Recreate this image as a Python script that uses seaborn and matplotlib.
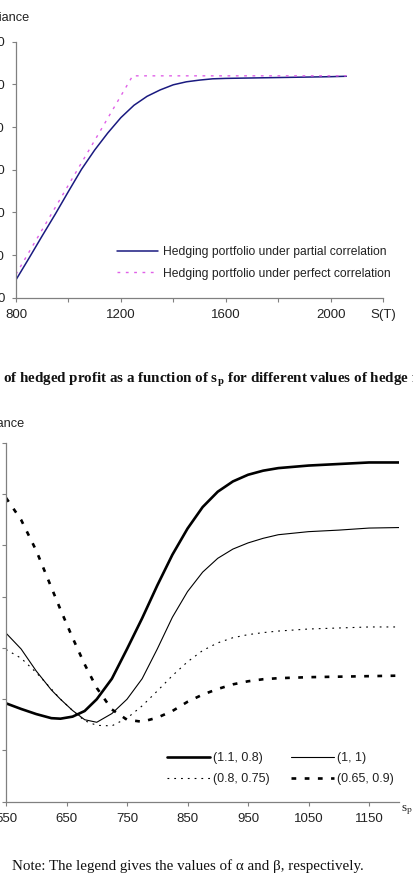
import numpy as np
import pandas as pd
import matplotlib
matplotlib.use("Agg")
import matplotlib.pyplot as plt
import seaborn as sns
from matplotlib.ticker import FixedLocator

# ---------------- data: top chart ----------------
st_partial = [800, 850, 900, 950, 1000, 1050, 1100, 1150, 1200, 1250, 1300, 1350,
              1400, 1450, 1500, 1550, 1600, 1700, 1800, 1900, 2000, 2060]
var_partial = [4.2, 9.3, 14.5, 19.6, 24.9, 30.1, 34.6, 38.6, 42.2, 45.1, 47.2, 48.7,
               49.9, 50.6, 51.0, 51.3, 51.4, 51.5, 51.6, 51.7, 51.8, 51.9]
st_perfect = [800, 1245, 2060]
var_perfect = [5.5, 52.0, 52.0]
top_yticks = [0, 10, 20, 30, 40, 50, 60]
top_xticks = [800, 1200, 1600, 2000]
top_xminor = [1000, 1400, 1800, 2200]

# ---------------- data: bottom chart ----------------
sp_x = [550, 575, 600, 625, 640, 660, 680, 700, 725, 750, 775, 800, 825, 850, 875,
        900, 925, 950, 975, 1000, 1050, 1100, 1150, 1200]
v_11_08 = [1.92, 1.81, 1.71, 1.63, 1.62, 1.66, 1.77, 2.00, 2.40, 2.98, 3.58, 4.22, 4.82,
           5.33, 5.75, 6.05, 6.25, 6.38, 6.46, 6.51, 6.56, 6.59, 6.62, 6.62]
v_1_1 = [3.29, 2.98, 2.55, 2.18, 2.00, 1.78, 1.60, 1.55, 1.72, 2.00, 2.40, 2.98, 3.60,
         4.10, 4.48, 4.75, 4.93, 5.05, 5.14, 5.21, 5.27, 5.30, 5.34, 5.35]
v_08_075 = [2.97, 2.80, 2.52, 2.20, 2.00, 1.78, 1.58, 1.49, 1.48, 1.63, 1.87, 2.16, 2.46,
            2.73, 2.95, 3.10, 3.20, 3.26, 3.30, 3.33, 3.37, 3.39, 3.41, 3.41]
v_065_09 = [5.93, 5.50, 4.90, 4.18, 3.75, 3.20, 2.68, 2.22, 1.80, 1.60, 1.56, 1.64, 1.77,
            1.95, 2.09, 2.20, 2.29, 2.35, 2.39, 2.41, 2.43, 2.44, 2.45, 2.46]
bot_labels = ["(1.1, 0.8)", "(1, 1)", "(0.8, 0.75)", "(0.65, 0.9)"]
bot_xticks = [550, 650, 750, 850, 950, 1050, 1150]
bot_yticks = [0, 1, 2, 3, 4, 5, 6, 7]

sns.set_style("ticks")
plt.rcParams['font.family'] = ['Liberation Sans', 'DejaVu Sans']
plt.rcParams['mathtext.fontset'] = 'stix'

W, H = 414, 885
fig = plt.figure(figsize=(W / 100, H / 100), dpi=100)

def fx(px):
    return px / W

def fy(py):
    return 1 - py / H

spine_col = "#808080"
txt_col = "#222222"
serif = ["Liberation Serif", "DejaVu Serif"]

# ---------------- top axes ----------------
ax1 = fig.add_axes([fx(16), fy(297.7), fx(383) - fx(16), fy(41.7) - fy(297.7)])
df_p = pd.DataFrame({"S": st_partial, "V": var_partial})
df_f = pd.DataFrame({"S": st_perfect, "V": var_perfect})
sns.lineplot(data=df_p, x="S", y="V", ax=ax1, color="#1a1a80", lw=1.1,
             label="Hedging portfolio under partial correlation")
sns.lineplot(data=df_f, x="S", y="V", ax=ax1, color="#e060e8", lw=1.0,
             label="Hedging portfolio under perfect correlation")
ax1.lines[1].set_dashes((2.0, 4.0))
ax1.set_xlim(800, 2200)
ax1.set_ylim(0, 60)
ax1.set_xticks(top_xticks)
ax1.xaxis.set_minor_locator(FixedLocator(top_xminor))
ax1.set_yticks(top_yticks)
ax1.set_yticklabels([str(v) for v in top_yticks])
ax1.set_xlabel("")
ax1.set_ylabel("")
for s in ["top", "right"]:
    ax1.spines[s].set_visible(False)
for s in ["left", "bottom"]:
    ax1.spines[s].set_color(spine_col)
    ax1.spines[s].set_linewidth(0.9)
ax1.tick_params(axis="both", which="both", direction="out", length=3, width=0.8,
                color=spine_col, labelsize=9.5, labelcolor=txt_col)
ax1.tick_params(axis="y", pad=5)
ax1.tick_params(axis="x", pad=5)
leg1 = ax1.legend(loc="upper left", bbox_to_anchor=(fx(117), fy(246.5)),
                  bbox_transform=fig.transFigure, frameon=False, fontsize=8.7,
                  handlelength=3.4, handletextpad=0.4, borderpad=0,
                  borderaxespad=0, labelspacing=0.75)
for t in leg1.get_texts():
    t.set_color(txt_col)
fig.text(fx(30), fy(18), "Variance", ha="right", va="center", fontsize=9.2, color=txt_col)
fig.text(fx(383), fy(315), "S(T)", ha="center", va="center", fontsize=9.5, color=txt_col)

# caption
fig.text(fx(3), fy(380),
         r"of hedged profit as a function of s$_\mathbf{p}$ for different values of hedge ratio",
         ha="left", va="center", fontsize=10.8, fontweight="bold",
         family=serif, color="#111111")

# ---------------- bottom axes ----------------
ax2 = fig.add_axes([fx(6), fy(801.7), fx(399.3) - fx(6), fy(443) - fy(801.7)])
series = [v_11_08, v_1_1, v_08_075, v_065_09]
styles = [dict(lw=1.9, dash=None), dict(lw=0.8, dash=None),
          dict(lw=0.8, dash=(1.6, 4.5)), dict(lw=1.9, dash=(1.8, 3.2))]
for vals, lab, st in zip(series, bot_labels, styles):
    d = pd.DataFrame({"sp": sp_x, "v": vals})
    sns.lineplot(data=d, x="sp", y="v", ax=ax2, color="black", lw=st["lw"], label=lab)
    if st["dash"] is not None:
        ax2.lines[-1].set_dashes(st["dash"])
ax2.set_xlim(550, 1200)
ax2.set_ylim(0, 7)
ax2.set_xticks(bot_xticks)
ax2.set_yticks(bot_yticks)
ax2.set_xlabel("")
ax2.set_ylabel("")
for s in ["top", "right"]:
    ax2.spines[s].set_visible(False)
for s in ["left", "bottom"]:
    ax2.spines[s].set_color(spine_col)
    ax2.spines[s].set_linewidth(0.9)
ax2.tick_params(axis="both", which="both", direction="out", length=3, width=0.8,
                color=spine_col, labelsize=9.5, labelcolor=txt_col)
ax2.tick_params(axis="x", pad=5)
h, l = ax2.get_legend_handles_labels()
order = [0, 2, 1, 3]
leg2 = ax2.legend([h[i] for i in order], [l[i] for i in order], loc="upper left",
                  ncol=2, bbox_to_anchor=(fx(166.7), fy(752.0)),
                  bbox_transform=fig.transFigure, frameon=False, fontsize=9.0,
                  handlelength=3.45, handletextpad=0.22, borderpad=0, borderaxespad=0,
                  labelspacing=0.75, columnspacing=1.75)
for t in leg2.get_texts():
    t.set_color(txt_col)
fig.text(fx(25), fy(424), "Variance", ha="right", va="center", fontsize=9.2, color=txt_col)
fig.text(fx(401), fy(810), r"s$_\mathrm{p}$", ha="left", va="center", fontsize=9.5,
         family=serif, color=txt_col)

fig.text(fx(12), fy(866), "Note: The legend gives the values of α and β, respectively.",
         ha="left", va="center", fontsize=10.8, family=serif, color="#111111")

fig.savefig("out.png", dpi=100)
